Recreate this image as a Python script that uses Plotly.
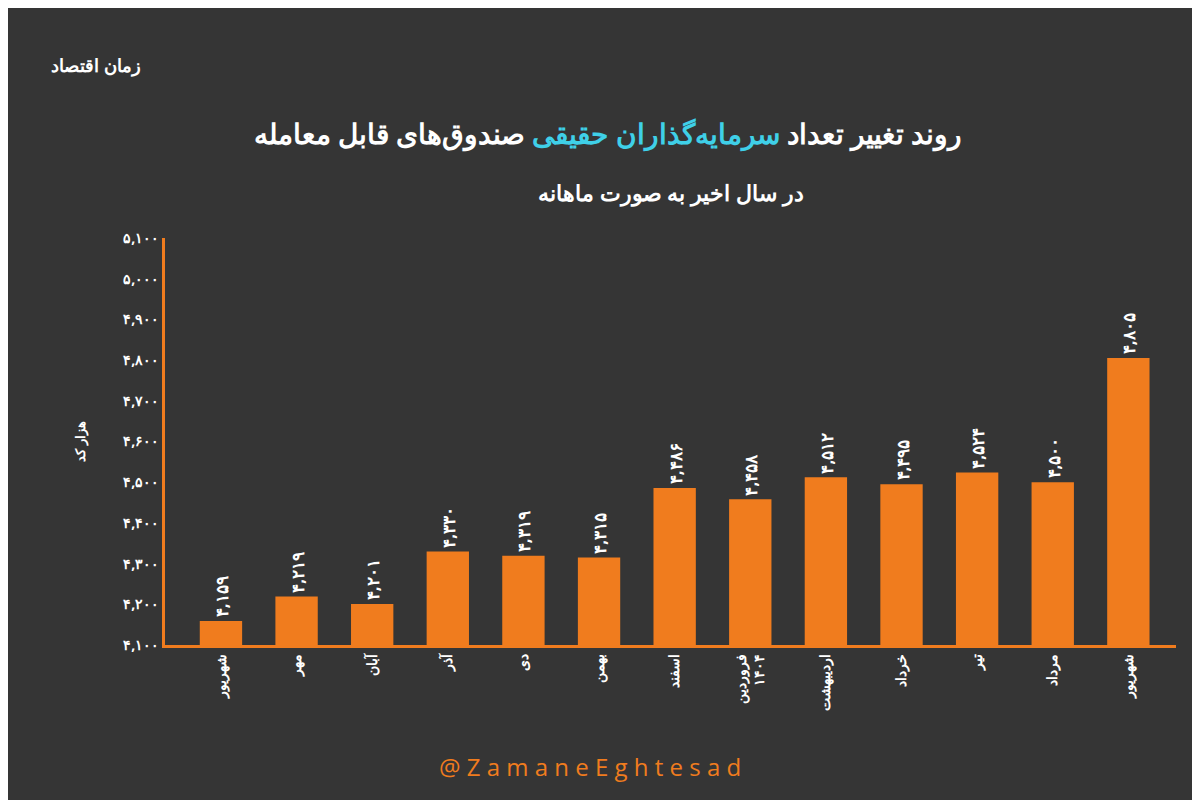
import plotly.graph_objects as go

months = ['شهریور', 'مهر', 'آبان', 'آذر', 'دی', 'بهمن', 'اسفند',
          'فروردین<br>۱۴۰۴', 'اردیبهشت', 'خرداد', 'تیر', 'مرداد', 'شهریور']
investors = [4159, 4219, 4201, 4330, 4319, 4315, 4486, 4458, 4512, 4495, 4524, 4500, 4805]
y_ticks = list(range(4100, 5101, 100))

fa = str.maketrans('0123456789', '۰۱۲۳۴۵۶۷۸۹')
def fa_num(v):
    return f'{v:,}'.translate(fa)

orange = '#f07c1e'
x = list(range(len(months)))

fig = go.Figure()
fig.add_bar(x=x, y=investors, marker_color=orange, marker_line_width=0, width=0.56,
            text=['<b>' + fa_num(v) + '</b>' for v in investors], textposition='outside',
            textangle=-90, cliponaxis=False,
            textfont=dict(color='white', size=22, family='Noto Sans'))

fig.update_layout(
    width=1200, height=800,
    paper_bgcolor='#353535', plot_bgcolor='#353535',
    margin=dict(l=157, r=32, t=230, b=163),
    showlegend=False,
    font=dict(family='Noto Sans', color='white'),
    title=dict(text='<b>روند تغییر تعداد <span style="color:#3fd0e8">سرمایه‌گذاران حقیقی</span> صندوق‌های قابل معامله</b>',
               x=0.5, y=0.855, xanchor='center', font=dict(size=28, color='white', family='Noto Sans')),
)
fig.update_xaxes(tickvals=x, ticktext=['<b>' + m + '</b>' for m in months], tickangle=-90,
                 range=[-0.74, 12.63],
                 showline=True, linecolor=orange, linewidth=3, showgrid=False,
                 tickfont=dict(size=14, color='white'))
fig.update_yaxes(range=[4100, 5100], tickvals=y_ticks, ticktext=['<b>' + fa_num(v) + '</b>' for v in y_ticks],
                 showline=True, linecolor=orange, linewidth=3, showgrid=False,
                 tickfont=dict(size=14, color='white'),
                 title=dict(text='<b>هزار کد</b>', font=dict(size=13), standoff=35))

fig.add_annotation(text='<b>در سال اخیر به صورت ماهانه</b>', xref='paper', yref='paper', x=0.5, y=1.155,
                   showarrow=False, font=dict(size=22, color='white'))
fig.add_annotation(text='<b>زمان اقتصاد</b>', xref='paper', yref='paper', x=-0.115, y=1.46, xanchor='left',
                   showarrow=False, font=dict(size=18, color='white'))
fig.add_annotation(text='@ Z a m a n e E g h t e s a d', xref='paper', yref='paper', x=0.42, y=-0.345,
                   showarrow=False, font=dict(size=24, color=orange, family='Open Sans'))
fig.write_html('out.html')
